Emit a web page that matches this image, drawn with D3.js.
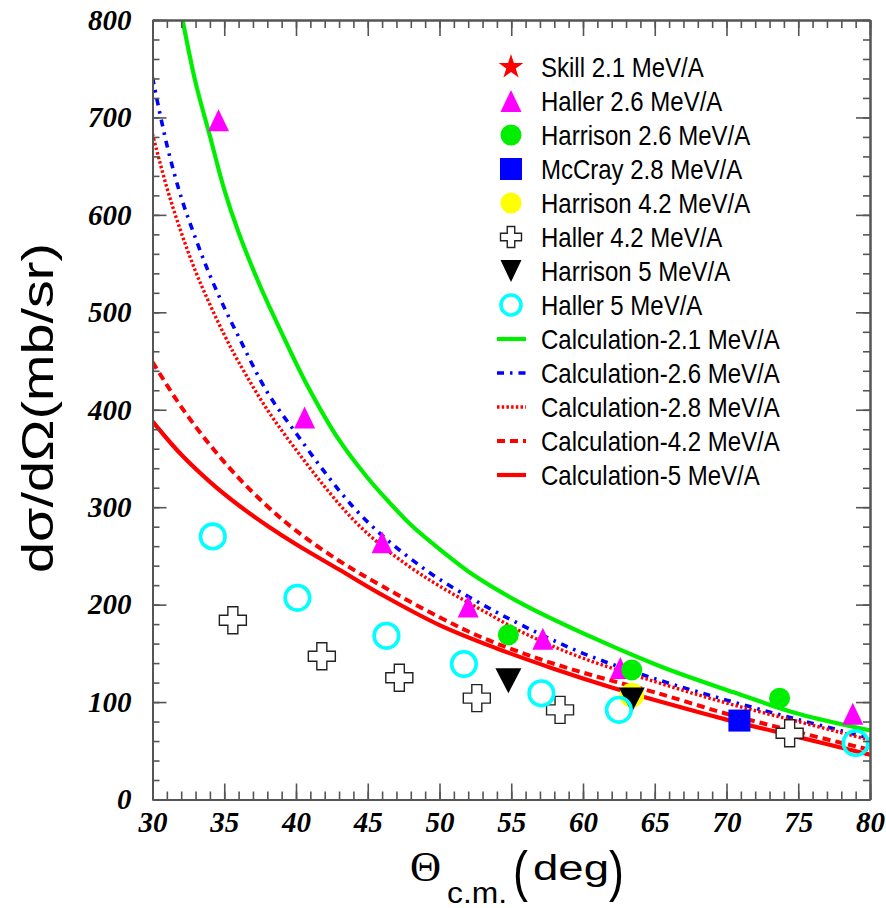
<!DOCTYPE html>
<html>
<head>
<meta charset="utf-8">
<script src="https://cdn.jsdelivr.net/npm/d3@7"></script>
<style>
  html, body { margin: 0; padding: 0; background: #fff; }
  svg { display: block; }
</style>
</head>
<body>
<svg id="chart" width="886" height="908"></svg>
<script>
// ---- measured cross sections, angle in degrees (c.m.), value in mb/sr ----
const skill21Angle = [];
const skill21Value = [];
const haller26Angle = [34.6, 40.6, 46.0, 52.0, 57.2, 62.6, 78.8];
const haller26Value = [697, 392, 264, 198, 165, 135, 88];
const harrison26Angle = [54.8, 63.4, 73.7];
const harrison26Value = [169, 133, 104];
const mccray28Angle = [70.9];
const mccray28Value = [81];
const harrison42Angle = [63.4];
const harrison42Value = [107];
const haller42Angle = [35.6, 41.8, 47.2, 52.6, 58.4, 74.4];
const haller42Value = [184, 147, 125, 104, 92, 68];
const harrison5Angle = [54.8, 63.4];
const harrison5Value = [122, 102];
const haller5Angle = [34.2, 40.1, 46.3, 51.7, 57.1, 62.5, 79.0];
const haller5Value = [270, 207, 168, 139, 109, 92, 58];

// ---- calculated curves ----
const calc21Angle = [32.1, 33, 34, 35, 36, 37.5, 39, 40.75, 43, 45, 46.5, 48, 50, 52.5, 56, 61, 65.5, 70.5, 75, 80];
const calc21Value = [800, 736, 681, 626, 582, 527, 479, 426, 369, 330, 305, 282, 257, 229, 199, 164, 136, 110, 88, 71];
const calc26Angle = [30, 31, 32, 33, 34, 35, 36, 38, 40, 42, 44, 46, 48, 50, 53, 56, 60, 65, 70, 75, 80];
const calc26Value = [741, 672, 618, 576, 538, 505, 475, 418, 376, 336, 300, 271, 247, 226, 200, 177, 150, 124, 102, 82, 63];
const calc28Angle = [30, 31, 32, 33, 34, 35, 36, 38, 40, 42, 44, 46, 48, 50, 53, 56, 60, 65, 70, 75, 80];
const calc28Value = [683, 628, 582, 542, 508, 477, 449, 400, 359, 321, 287, 260, 238, 219, 194, 170, 145, 121, 99, 80, 61];
const calc42Angle = [30, 32, 34, 36, 38, 40, 43, 46, 50, 53, 57, 61, 65, 70, 75, 80];
const calc42Value = [449, 403, 364, 330, 301, 276, 245, 219, 187, 166, 144, 126, 110, 88, 69, 51];
const calc5Angle = [30, 32, 34, 36, 38, 40, 43, 46, 50, 54, 58, 62, 66, 70, 75, 80];
const calc5Value = [388, 354, 326, 302, 281, 262, 236, 210, 179, 155, 134, 115, 98, 82, 64, 46];

// ---- axis ticks ----
const xMajorTicks = [30, 35, 40, 45, 50, 55, 60, 65, 70, 75, 80];
const xMinorTicks = d3.range(30, 81, 1);
const yMajorTicks = [0, 100, 200, 300, 400, 500, 600, 700, 800];
const yMinorTicks = d3.range(0, 801, 20);

// ---- legend labels ----
const markerLabels = ["Skill 2.1 MeV/A", "Haller 2.6 MeV/A", "Harrison 2.6 MeV/A", "McCray 2.8 MeV/A",
  "Harrison 4.2 MeV/A", "Haller 4.2 MeV/A", "Harrison 5 MeV/A", "Haller 5 MeV/A"];
const lineLabels = ["Calculation-2.1 MeV/A", "Calculation-2.6 MeV/A", "Calculation-2.8 MeV/A",
  "Calculation-4.2 MeV/A", "Calculation-5 MeV/A"];

// ---------------------------------------------------------------
const svg = d3.select("#chart");
const L = 152.5, R = 870, T = 20, B = 799.5;

const x = d3.scaleLinear().domain([30, 80]).range([L, R]);
const y = d3.scaleLinear().domain([0, 800]).range([B, T]);

const zip = (a, v) => a.map((d, i) => [d, v[i]]);

// marker shapes
const triUp = (w, h) => `M0,${-h / 2}L${w / 2},${h / 2}L${-w / 2},${h / 2}Z`;
const triDown = (w, h) => `M0,${h / 2}L${w / 2},${-h / 2}L${-w / 2},${-h / 2}Z`;
const crossPath = (s, a) => {
  const o = s / 2, i = a / 2;
  return `M${-i},${-o}L${i},${-o}L${i},${-i}L${o},${-i}L${o},${i}L${i},${i}L${i},${o}L${-i},${o}L${-i},${i}L${-o},${i}L${-o},${-i}L${-i},${-i}Z`;
};
const starPath = s => d3.symbol().type(d3.symbolStar).size(s)();

const markerSets = [
  { a: skill21Angle, v: skill21Value, draw: (g, big) => g.append("path").attr("d", starPath(big ? 200 : 190)).attr("fill", "#ff0000") },
  { a: haller26Angle, v: haller26Value, draw: (g, big) => g.append("path").attr("d", triUp(21, 22)).attr("fill", "#ff00ff") },
  { a: harrison26Angle, v: harrison26Value, draw: (g, big) => g.append("circle").attr("r", 10.5).attr("fill", "#00ee00") },
  { a: mccray28Angle, v: mccray28Value, draw: (g, big) => g.append("rect").attr("x", -11).attr("y", -11).attr("width", 22).attr("height", 22).attr("fill", "#0000ff") },
  { a: harrison42Angle, v: harrison42Value, draw: (g, big) => g.append("circle").attr("r", big ? 12.5 : 10.5).attr("fill", "#ffff00") },
  { a: haller42Angle, v: haller42Value, draw: (g, big) => g.append("path").attr("d", big ? crossPath(27, 10) : crossPath(21, 7.5)).attr("fill", "#fff").attr("stroke", "#222").attr("stroke-width", 1.4) },
  { a: harrison5Angle, v: harrison5Value, draw: (g, big) => g.append("path").attr("d", big ? triDown(26, 25) : triDown(21, 22)).attr("fill", "#000") },
  { a: haller5Angle, v: haller5Value, draw: (g, big) => g.append("circle").attr("r", big ? 12.3 : 10).attr("fill", "none").attr("stroke", "#00ffff").attr("stroke-width", 3.6) }
];

const curveSets = [
  { a: calc21Angle, v: calc21Value, color: "#00ee00", width: 4.2, dash: null },
  { a: calc26Angle, v: calc26Value, color: "#0000ff", width: 3.6, dash: "7,6,2.5,6" },
  { a: calc28Angle, v: calc28Value, color: "#ff0000", width: 3.4, dash: "2.5,2.2" },
  { a: calc42Angle, v: calc42Value, color: "#ff0000", width: 4, dash: "8,5" },
  { a: calc5Angle, v: calc5Value, color: "#ff0000", width: 4.2, dash: null }
];

// clip region for the curves
svg.append("defs").append("clipPath").attr("id", "plotclip")
  .append("rect").attr("x", L).attr("y", T).attr("width", R - L).attr("height", B - T);

// calculated curves
const line = d3.line().x(d => x(d[0])).y(d => y(d[1])).curve(d3.curveCatmullRom.alpha(0.5));
const curvesG = svg.append("g").attr("clip-path", "url(#plotclip)");
curveSets.forEach(c => {
  curvesG.append("path")
    .attr("d", line(zip(c.a, c.v)))
    .attr("fill", "none")
    .attr("stroke", c.color)
    .attr("stroke-width", c.width)
    .attr("stroke-dasharray", c.dash)
    .attr("stroke-linejoin", "round");
});

// measured points
const pointsG = svg.append("g");
markerSets.forEach(m => {
  zip(m.a, m.v).forEach(p => {
    const g = pointsG.append("g").attr("transform", `translate(${x(p[0])},${y(p[1])})`);
    m.draw(g, true);
  });
});

// ---- axes (ticks pointing into the frame, on all four sides) ----
const axisColor = "#555";
function styleAxis(g) {
  g.selectAll("path.domain").attr("stroke", axisColor).attr("stroke-width", 2);
  g.selectAll(".tick line").attr("stroke", axisColor).attr("stroke-width", 1.6);
  g.selectAll(".tick text")
    .attr("fill", "#000")
    .style("font-family", "'Liberation Serif', 'Times New Roman', serif")
    .style("font-weight", "bold")
    .style("font-style", "italic")
    .style("font-size", "29px");
}

// bottom
svg.append("g").attr("transform", `translate(0,${B})`)
  .call(d3.axisBottom(x).tickValues(xMinorTicks).tickSizeInner(-8).tickSizeOuter(0).tickFormat(""))
  .call(styleAxis);
svg.append("g").attr("transform", `translate(0,${B})`)
  .call(d3.axisBottom(x).tickValues(xMajorTicks).tickSizeInner(-16).tickSizeOuter(0).tickPadding(12).tickFormat(d3.format("d")))
  .call(styleAxis);
// top
svg.append("g").attr("transform", `translate(0,${T})`)
  .call(d3.axisTop(x).tickValues(xMinorTicks).tickSizeInner(-8).tickSizeOuter(0).tickFormat(""))
  .call(styleAxis);
svg.append("g").attr("transform", `translate(0,${T})`)
  .call(d3.axisTop(x).tickValues(xMajorTicks).tickSizeInner(-16).tickSizeOuter(0).tickFormat(""))
  .call(styleAxis);
// left
svg.append("g").attr("transform", `translate(${L},0)`)
  .call(d3.axisLeft(y).tickValues(yMinorTicks).tickSizeInner(-7).tickSizeOuter(0).tickFormat(""))
  .call(styleAxis);
svg.append("g").attr("transform", `translate(${L},0)`)
  .call(d3.axisLeft(y).tickValues(yMajorTicks).tickSizeInner(-14).tickSizeOuter(0).tickPadding(21).tickFormat(d3.format("d")))
  .call(styleAxis);
// right
svg.append("g").attr("transform", `translate(${R},0)`)
  .call(d3.axisRight(y).tickValues(yMinorTicks).tickSizeInner(-7).tickSizeOuter(0).tickFormat(""))
  .call(styleAxis);
svg.append("g").attr("transform", `translate(${R},0)`)
  .call(d3.axisRight(y).tickValues(yMajorTicks).tickSizeInner(-14).tickSizeOuter(0).tickFormat(""))
  .call(styleAxis);

// ---- axis titles ----
const sans = "'Liberation Sans', Arial, Helvetica, sans-serif";
const xt = svg.append("g");
xt.append("text").attr("x", 410).attr("y", 881)
  .style("font-family", "'Liberation Serif', 'Times New Roman', serif").style("font-size", "43px")
  .text("Θ");
xt.append("text").attr("x", 447).attr("y", 903)
  .attr("textLength", 60).attr("lengthAdjust", "spacingAndGlyphs")
  .style("font-family", sans).style("font-size", "29px")
  .text("c.m.");
xt.append("text").attr("x", 513).attr("y", 890)
  .attr("transform", "translate(513,890) scale(0.8,1) translate(-513,-890)")
  .style("font-family", sans).style("font-size", "56px")
  .text("(");
xt.append("text").attr("x", 533).attr("y", 880)
  .attr("textLength", 76).attr("lengthAdjust", "spacingAndGlyphs")
  .style("font-family", sans).style("font-size", "35px")
  .text("deg");
xt.append("text").attr("x", 609).attr("y", 890)
  .attr("transform", "translate(609,890) scale(0.8,1) translate(-609,-890)")
  .style("font-family", sans).style("font-size", "56px")
  .text(")");

svg.append("text")
  .attr("transform", "translate(53,408) rotate(-90)")
  .attr("text-anchor", "middle")
  .attr("textLength", 330).attr("lengthAdjust", "spacingAndGlyphs")
  .style("font-family", sans).style("font-size", "44px")
  .text("dσ/dΩ(mb/sr)");

// ---- legend ----
const legX = 511, legTextX = 541, legY0 = 67, legStep = 34;
const leg = svg.append("g");
markerSets.forEach((m, i) => {
  const cy = legY0 + i * legStep;
  const g = leg.append("g").attr("transform", `translate(${legX},${cy})`);
  m.draw(g, false);
  leg.append("text")
    .attr("transform", `translate(${legTextX},${cy + 10}) scale(1,1.14)`)
    .style("font-family", sans).style("font-size", "24px")
    .text(markerLabels[i]);
});
curveSets.forEach((c, i) => {
  const cy = legY0 + (markerSets.length + i) * legStep;
  leg.append("line")
    .attr("x1", 497).attr("x2", 526).attr("y1", cy).attr("y2", cy)
    .attr("stroke", c.color).attr("stroke-width", c.width)
    .attr("stroke-dasharray", c.dash);
  leg.append("text")
    .attr("transform", `translate(${legTextX},${cy + 10}) scale(1,1.14)`)
    .style("font-family", sans).style("font-size", "24px")
    .text(lineLabels[i]);
});
</script>
</body>
</html>
